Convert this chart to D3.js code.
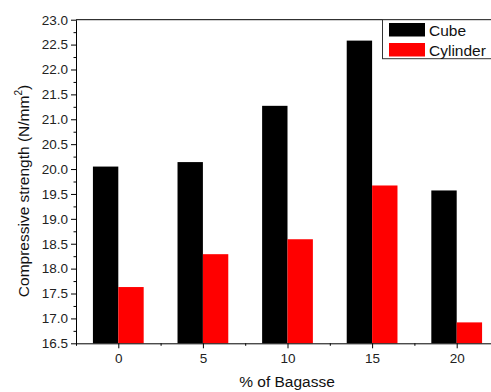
<!DOCTYPE html>
<html>
<head>
<meta charset="utf-8">
<script src="https://cdn.jsdelivr.net/npm/d3@7"></script>
<style>
  body { margin: 0; background: #fff; }
  svg { font-family: Arial, 'Liberation Sans', sans-serif; }
</style>
</head>
<body>
<svg id="chart" width="491" height="392"></svg>
<script>
// data
const bagasse = [0, 5, 10, 15, 20];
const cube = [20.05, 20.14, 21.27, 22.58, 19.57];
const cylinder = [17.63, 18.29, 18.59, 19.67, 16.92];
const seriesNames = ['Cube', 'Cylinder'];
const seriesColors = ['#000000', '#ff0000'];
const yMajorTicks = d3.range(16.5, 23.01, 0.5);
const yMinorTicks = d3.range(16.75, 23, 0.5);
const xMinorTicks = [-2.5, 2.5, 7.5, 12.5, 17.5, 22.5];

const svg = d3.select('#chart');
const mLeft = 76, mRight = 499, mTop = 19.7, mBottom = 343.3;
const barW = 1.5;

const x = d3.scaleLinear().domain([-2.5, 22.5]).range([mLeft, mRight]);
const y = d3.scaleLinear().domain([16.5, 23]).range([mBottom, mTop]);

// bars
const series = [cube, cylinder];
series.forEach((vals, s) => {
  svg.append('g')
    .attr('fill', seriesColors[s])
    .selectAll('rect')
    .data(bagasse.map((b, i) => ({ b, v: vals[i] })))
    .join('rect')
    .attr('x', d => s === 0 ? x(d.b - barW) : x(d.b))
    .attr('y', d => y(d.v))
    .attr('width', d => x(d.b + barW) - x(d.b))
    .attr('height', d => y(16.5) - y(d.v));
});

// frame top + right (right edge falls outside the picture)
svg.append('line')
  .attr('x1', mLeft).attr('x2', mRight).attr('y1', mTop).attr('y2', mTop)
  .attr('stroke', '#000').attr('stroke-width', 1);
svg.append('line')
  .attr('x1', mRight).attr('x2', mRight).attr('y1', mTop).attr('y2', mBottom)
  .attr('stroke', '#000').attr('stroke-width', 1);

// y axis
svg.append('g')
  .attr('transform', `translate(${mLeft},0)`)
  .call(d3.axisLeft(y).tickValues(yMajorTicks).tickFormat(d3.format('.1f')).tickSize(5).tickSizeOuter(0).tickPadding(3))
  .call(g => g.selectAll('text').attr('font-size', 13.5).attr('font-family', null).attr('fill', '#222'))
  .call(g => g.selectAll('line, path').attr('stroke', '#000'));
svg.append('g')
  .attr('transform', `translate(${mLeft},0)`)
  .call(d3.axisLeft(y).tickValues(yMinorTicks).tickFormat('').tickSize(2.5).tickSizeOuter(0))
  .call(g => g.select('.domain').remove())
  .call(g => g.selectAll('line').attr('stroke', '#000'));

// x axis
svg.append('g')
  .attr('transform', `translate(0,${mBottom})`)
  .call(d3.axisBottom(x).tickValues(bagasse).tickFormat(d3.format('d')).tickSize(5).tickSizeOuter(0).tickPadding(5))
  .call(g => g.selectAll('text').attr('font-size', 13.5).attr('font-family', null).attr('fill', '#222'))
  .call(g => g.selectAll('line, path').attr('stroke', '#000'));
svg.append('g')
  .attr('transform', `translate(0,${mBottom})`)
  .call(d3.axisBottom(x).tickValues(xMinorTicks).tickFormat('').tickSize(2.5).tickSizeOuter(0))
  .call(g => g.select('.domain').remove())
  .call(g => g.selectAll('line').attr('stroke', '#000'));

// axis titles
svg.append('text')
  .attr('x', 287).attr('y', 387)
  .attr('text-anchor', 'middle')
  .attr('font-size', 15.5)
  .attr('fill', '#111')
  .text('% of Bagasse');

const yt = svg.append('text')
  .attr('transform', 'translate(29,191) rotate(-90)')
  .attr('text-anchor', 'middle')
  .attr('font-size', 15.5)
  .attr('fill', '#111');
yt.append('tspan').text('Compressive strength (N/mm');
yt.append('tspan').attr('font-size', 10).attr('dy', -7).text('2');
yt.append('tspan').attr('dy', 7).text(')');

// legend (its right border is cut off like in the reference)
const lg = svg.append('g');
lg.append('rect')
  .attr('x', 382.5).attr('y', mTop).attr('width', 116).attr('height', 39)
  .attr('fill', '#fff').attr('stroke', '#333').attr('stroke-width', 1);
seriesNames.forEach((name, i) => {
  lg.append('rect')
    .attr('x', 389).attr('y', 23 + i * 20).attr('width', 36).attr('height', 13.5)
    .attr('fill', seriesColors[i]);
  lg.append('text')
    .attr('x', 429).attr('y', 36 + i * 19.5)
    .attr('font-size', 15.5)
    .attr('fill', '#111')
    .text(name);
});
</script>
</body>
</html>
